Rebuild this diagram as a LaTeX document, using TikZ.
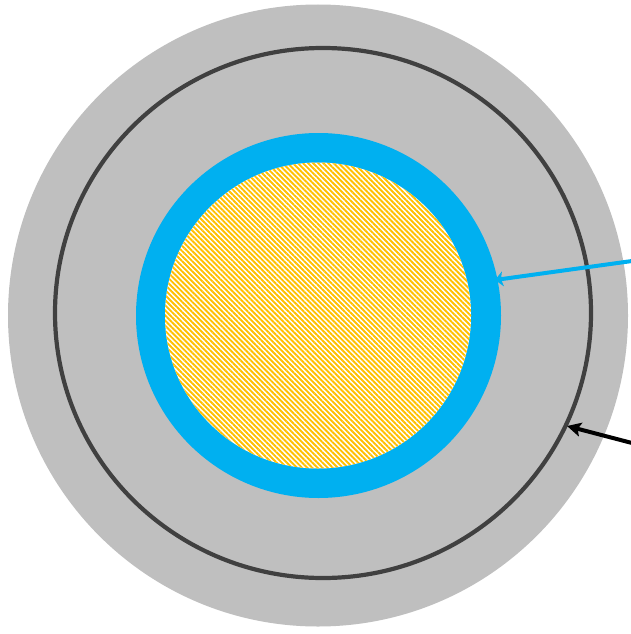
\documentclass[tikz,border=0pt]{standalone}
\usetikzlibrary{arrows.meta,patterns.meta}
\definecolor{ringgray}{HTML}{BFBFBF}
\definecolor{darkline}{HTML}{404040}
\definecolor{sheath}{HTML}{00B0F0}
\definecolor{core}{HTML}{FFC000}
\tikzset{
  grayring/.style={fill=ringgray,draw=none},
  screen/.style={draw=darkline,line width=4.2pt},
  insul/.style={fill=sheath,draw=none},
  corefill/.style={fill=white,draw=none,pattern={Lines[angle=-45,distance=3.6pt,line width=1.9pt]},pattern color=core},
  bluearrow/.style={draw=sheath,line width=4pt,-{Stealth[length=8pt,width=15pt,inset=2pt]}},
  blackarrow/.style={draw=black,line width=4pt,-{Stealth[length=14pt,width=14pt,inset=3pt]}}
}
\begin{document}
\begin{tikzpicture}[x=1pt,y=-1pt]
\useasboundingbox (0,0) rectangle (630,634);
\fill[grayring] (318,315.5) ellipse [x radius=310, y radius=311];
\draw[screen] (323,313) ellipse [x radius=268, y radius=265];
\node[circle,insul,minimum size=365pt,inner sep=0pt] (blue) at (318.5,315.5) {};
\fill[white] (318,315.5) circle [radius=153];
\node[circle,corefill,minimum size=306pt,inner sep=0pt] (coreN) at (318,315.5) {};
\coordinate (bluestart) at (632,261);
\coordinate (bluetip) at (495,280);
\coordinate (blackstart) at (632,443);
\coordinate (blacktip) at (567,426);
\draw[bluearrow] (bluestart) -- (bluetip);
\draw[blackarrow] (blackstart) -- (blacktip);
\end{tikzpicture}
\end{document}
